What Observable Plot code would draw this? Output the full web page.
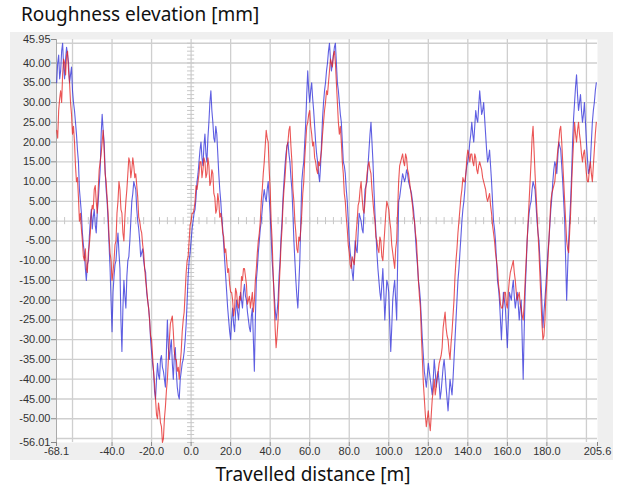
<!DOCTYPE html>
<html><head><meta charset="utf-8">
<script src="https://cdn.jsdelivr.net/npm/d3@7"></script>
<script src="https://cdn.jsdelivr.net/npm/@observablehq/plot@0.6"></script>
<style>
body{margin:0;background:#fff;}
#wrap{position:relative;width:623px;height:488px;overflow:hidden;}
#panel{position:absolute;left:10px;top:32px;width:603px;height:428px;background:#efefef;}
#title{position:absolute;left:21px;top:1px;font:19px "Noto Sans",sans-serif;color:#111;white-space:nowrap;}
#xlabel{position:absolute;left:0;width:626px;top:461px;text-align:center;font:19px "Noto Sans",sans-serif;color:#111;white-space:nowrap;}
#chart{position:absolute;left:0;top:0;}
</style>
</head><body>
<div id="wrap"><div id="panel"></div><div id="chart"></div>
<div id="title">Roughness elevation [mm]</div>
<div id="xlabel">Travelled distance [m]</div></div>
<script>
// first sample distance [m]; samples every 0.5 m
const startX = -68;
const stepX = 0.5;
const redElev = [
23,21,28,31,33,30,37,41,40,37,42,43,38,35,30,27,22,24,20,14,
10,11,6,0,2,-2,-5,-9,-10,-7,-12,-13,-8,-6,-3,2,4,3,8,9,
5,2,8,13,15,17,20,23,18,12,10,6,2,-4,-8,-10,-15,-13,-10,-6,
-5,2,5,10,8,3,2,-3,-5,1,5,8,12,16,15,11,13,16,14,11,
12,9,6,1,0,-2,-3,-6,-8,-12,-15,-17,-20,-22,-25,-29,-30,-34,-38,-41,
-45,-49,-50,-46,-48,-51,-52,-56,-55,-50,-47,-43,-40,-35,-30,-26,-25,-24,-28,-33,
-35,-35,-38,-37,-40,-36,-33,-28,-25,-23,-18,-13,-10,-9,-5,-1,0,2,2,3,
5,9,8,10,12,15,15,11,13,16,15,11,12,16,14,9,10,13,12,7,
6,2,3,7,5,1,2,0,-3,-4,-8,-7,-10,-13,-12,-16,-18,-18,-20,-24,
-22,-17,-18,-21,-22,-19,-20,-14,-15,-12,-12,-14,-16,-21,-20,-19,-22,-20,-18,-23,
-20,-15,-12,-8,-5,-3,0,5,8,12,15,19,23,21,20,13,8,0,-5,-13,
-20,-27,-32,-29,-25,-17,-12,-6,-2,4,8,11,15,19,20,23,24,19,15,8,
5,0,-3,-7,-8,-4,-5,-2,2,7,10,16,20,24,25,27,28,24,22,19,
20,16,15,13,12,15,14,16,18,22,25,28,30,33,32,35,38,41,40,39,
42,43,40,35,30,25,22,24,20,15,12,7,5,1,-2,-6,-8,-11,-12,-9,
-10,-11,-8,-3,0,4,5,8,10,6,3,2,5,9,12,14,15,13,12,8,
5,2,0,-4,-5,-7,-8,-4,-5,-9,-10,-6,-2,2,5,4,3,0,-2,-6,
-8,-10,-12,-7,-5,3,10,14,15,16,17,15,14,17,16,13,12,10,8,6,
4,1,0,-3,-5,-10,-15,-19,-22,-29,-35,-41,-45,-49,-52,-50,-48,-51,-53,-49,
-45,-43,-40,-44,-42,-39,-38,-36,-35,-34,-32,-27,-25,-23,-27,-29,-30,-33,-35,-31,
-28,-24,-20,-14,-10,-7,-3,0,3,6,8,11,10,10,12,16,18,17,15,17,
17,15,14,17,16,13,12,14,15,14,13,11,10,9,8,6,5,6,7,4,
2,-1,-3,-5,-8,-10,-12,-16,-18,-21,-22,-22,-20,-18,-18,-21,-22,-18,-15,-13,
-12,-11,-10,-13,-15,-18,-20,-19,-18,-21,-22,-24,-25,-21,-15,-10,-5,0,5,10,
15,21,24,18,12,7,2,-3,-8,-14,-20,-26,-30,-29,-25,-19,-15,-10,-5,0,
5,7,8,9,10,13,15,18,20,23,24,20,15,10,5,0,-5,-7,-8,-3,
2,9,15,20,25,22,20,23,25,22,20,17,15,17,18,15,12,10,10,13,
15,12,10,14,18,22,25];
const blueElev = [
35,40,42,36,38,43,45,39,36,41,44,42,40,35,37,39,33,30,28,25,
22,18,15,8,5,2,-3,-6,-8,-12,-15,-11,-10,-4,0,3,-2,1,3,-1,
-3,2,5,9,13,22,27,23,20,13,8,5,0,-6,-12,-20,-28,-18,-14,-11,
-10,-6,-3,-8,-12,-25,-33,-22,-15,-19,-22,-14,-10,-9,-5,0,5,7,10,9,
8,3,0,-2,-5,-9,-8,-7,-10,-12,-13,-18,-20,-22,-25,-30,-33,-36,-38,-43,
-45,-40,-36,-39,-40,-35,-34,-37,-38,-40,-42,-33,-25,-32,-35,-32,-30,-36,-40,-34,
-32,-38,-42,-44,-45,-40,-38,-36,-35,-33,-30,-26,-20,-14,-10,-8,-5,-2,0,2,
3,6,10,12,15,18,20,16,14,19,22,17,15,21,25,30,33,28,25,21,
20,24,22,17,12,8,5,1,-2,-6,-10,-14,-18,-22,-25,-28,-30,-25,-22,-26,
-28,-23,-20,-23,-25,-21,-18,-20,-22,-18,-16,-19,-20,-23,-25,-27,-28,-24,-22,-30,
-38,-25,-15,-12,-8,-5,-2,0,3,6,8,6,5,8,10,6,2,-4,-10,-14,
-18,-22,-25,-23,-20,-14,-10,-4,0,6,10,14,17,19,20,17,15,11,8,2,
-5,-10,-15,-19,-22,-16,-10,0,10,13,15,20,25,32,38,33,30,33,35,31,
28,24,20,17,15,12,10,14,20,26,30,33,35,38,40,43,45,41,38,40,
42,44,45,40,35,33,30,27,25,20,15,14,12,8,5,0,-5,-8,-10,-13,
-15,-10,-5,-7,-8,-3,2,1,0,-2,-3,3,8,9,10,14,18,22,25,20,
15,8,2,-3,-8,-12,-15,-18,-20,-16,-12,-18,-25,-20,-15,-16,-18,-26,-33,-27,
-20,-17,-15,-20,-25,-10,5,6,8,10,12,11,10,11,13,12,10,9,8,7,
5,3,0,-4,-8,-11,-15,-17,-20,-25,-30,-34,-38,-40,-42,-39,-36,-38,-40,-42,
-44,-40,-35,-38,-42,-40,-38,-41,-45,-43,-40,-37,-35,-38,-42,-45,-48,-44,-40,-42,
-44,-40,-35,-30,-25,-20,-15,-12,-8,-4,0,3,5,8,12,14,15,17,20,22,
25,22,20,24,28,26,25,29,33,30,27,28,30,26,22,18,15,16,18,14,
10,5,0,-2,-5,-10,-15,-17,-20,-25,-30,-24,-18,-20,-22,-27,-32,-25,-18,-19,
-20,-17,-15,-19,-22,-20,-18,-21,-25,-22,-20,-30,-40,-28,-18,-12,-5,-1,2,4,
5,8,10,9,8,4,0,-3,-5,-10,-15,-21,-27,-23,-20,-16,-12,-8,-5,-1,
3,6,10,13,15,14,12,16,20,19,18,14,10,5,0,-10,-20,-12,-5,0,
5,12,20,26,30,34,37,32,28,30,32,28,25,27,30,25,20,16,12,13,
15,20,25,28,30,33,35];
const xTickValues = [-68.1,-40,-20,0,20,40,60,80,100,120,140,160,180,205.6];
const yTickValues = [45.95,40,35,30,25,20,15,10,5,0,-5,-10,-15,-20,-25,-30,-35,-40,-45,-50,-56.01];
const xGridValues = [-60,-40,-20,0,20,40,60,80,100,120,140,160,180,200];
const yGridValues = [45,40,35,30,25,20,15,10,5,0,-5,-10,-15,-20,-25,-30,-35,-40,-45,-50,-55];
const xMinor = d3.range(-68, 205.6, 4);
const yMinor = d3.range(-56, 46, 1);

const xDomain = [-68.1, 205.6];
const yDomain = [-56.01, 45.95];

const chart = Plot.plot({
  width: 623, height: 488,
  marginLeft: 56, marginRight: 26, marginTop: 39, marginBottom: 46,
  style: {background: "transparent", fontFamily: "'Liberation Sans', Arial, sans-serif", fontSize: "11px"},
  x: {domain: xDomain, label: null},
  y: {domain: yDomain, label: null},
  marks: [
    Plot.frame({fill: "white", stroke: "none"}),
    Plot.gridX(xGridValues, {stroke: "#cfcfcf", strokeOpacity: 1, strokeWidth: 1.3}),
    Plot.gridY(yGridValues, {stroke: "#cfcfcf", strokeOpacity: 1, strokeWidth: 1.3}),
    Plot.ruleY(yMinor, {x1: -1.8, x2: 1.8, stroke: "#c8c8c8", strokeWidth: 1}),
    Plot.ruleX(xMinor, {y1: -0.9, y2: 0.9, stroke: "#c8c8c8", strokeWidth: 1}),
    Plot.ruleX([xDomain[0]], {stroke: "#aaa"}),
    Plot.line(blueElev, {x: (d, i) => startX + i * stepX, y: d => d, stroke: "#2a2ad8", strokeWidth: 1.1, strokeOpacity: 0.75}),
    Plot.line(redElev, {x: (d, i) => startX + i * stepX, y: d => d, stroke: "#e41e1e", strokeWidth: 1.1, strokeOpacity: 0.75}),
    Plot.axisX(xTickValues, {tickFormat: d => d.toFixed(1), tickSize: 4, tickPadding: 1, stroke: "#888", fill: "#333", fontSize: 11}),
    Plot.axisY(yTickValues, {tickFormat: d => d.toFixed(2), tickSize: 5, tickPadding: 1, stroke: "#888", fill: "#333", fontSize: 11})
  ]
});
document.getElementById("chart").appendChild(chart);
</script>
</body></html>
